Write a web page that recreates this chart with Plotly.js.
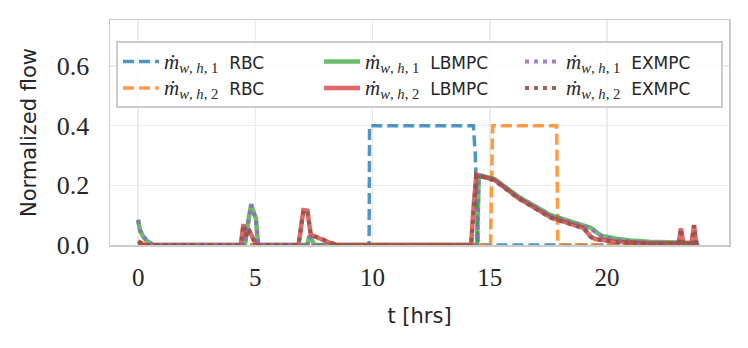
<!DOCTYPE html>
<html>
<head>
<meta charset="utf-8">
<script src="https://cdn.plot.ly/plotly-3.0.1.min.js"></script>
<style>
  html, body { margin: 0; padding: 0; background: #ffffff; }
  #chart { width: 748px; height: 348px; }
</style>
</head>
<body>
<div id="chart"></div>
<script>
// RBC schedules (hours, normalized flow)
const tRbc1 = [0, 9.85, 9.87, 14.3, 14.38, 14.43, 14.5, 24];
const mRbc1 = [0, 0, 0.4, 0.4, 0.3, 0.2, 0, 0];
const tRbc2 = [0, 15.03, 15.12, 17.85, 17.9, 24];
const mRbc2 = [0, 0, 0.4, 0.4, 0, 0];

// LBMPC
const tLb1 = [0, 0.08, 0.2, 0.4, 0.65, 4.55, 4.7, 4.82, 4.92, 5.02, 5.12, 7.22, 7.3, 7.4, 7.5,
  14.45, 14.52, 14.6, 15.2, 16.2, 17.6, 19.0, 19.3, 19.6, 19.8, 20.4, 21.0, 21.8, 22.5, 23.0, 23.9];
const mLb1 = [0.085, 0.05, 0.03, 0.012, 0, 0, 0.08, 0.137, 0.11, 0.09, 0, 0, 0.03, 0.02, 0,
  0, 0.22, 0.233, 0.221, 0.163, 0.1, 0.067, 0.058, 0.04, 0.03, 0.021, 0.015, 0.011, 0.009, 0.008, 0.007];
const tLb2 = [0, 0.3, 4.38, 4.49, 4.6, 4.7, 4.85, 5.03, 6.84, 7.05, 7.22, 7.36, 7.5, 7.8, 8.1, 8.47,
  14.2, 14.3, 14.42, 14.5, 15.2, 16.2, 17.6, 19.0, 19.15, 19.3, 19.5, 20.4, 21.8,
  23.05, 23.15, 23.25, 23.6, 23.71, 23.8, 23.9];
const mLb2 = [0.012, 0, 0, 0.07, 0.03, 0.055, 0.03, 0, 0, 0.117, 0.115, 0.035, 0.03, 0.022, 0.01, 0,
  0, 0.12, 0.235, 0.233, 0.218, 0.158, 0.092, 0.057, 0.045, 0.028, 0.02, 0.011, 0.006,
  0.006, 0.056, 0.006, 0.006, 0.067, 0.006, 0.006];

// EXMPC
const tEx1 = [0, 0.08, 0.2, 0.4, 0.65, 4.55, 4.7, 4.82, 4.92, 5.02, 5.12, 7.22, 7.3, 7.4, 7.5,
  14.46, 14.53, 14.6, 15.2, 16.2, 17.6, 19.0, 19.3, 19.6, 19.8, 20.4, 21.0, 21.8, 22.5, 23.0, 23.9];
const mEx1 = [0.083, 0.05, 0.029, 0.012, 0, 0, 0.078, 0.135, 0.11, 0.088, 0, 0, 0.028, 0.02, 0,
  0, 0.22, 0.232, 0.22, 0.162, 0.098, 0.066, 0.056, 0.038, 0.028, 0.018, 0.012, 0.008, 0.006, 0.005, 0.005];
const tEx2 = [0, 0.3, 4.38, 4.49, 4.6, 4.7, 4.85, 5.03, 6.84, 7.05, 7.22, 7.36, 7.5, 7.8, 8.1, 8.47,
  14.2, 14.3, 14.42, 14.5, 15.2, 16.2, 17.6, 19.0, 19.15, 19.3, 19.5, 20.4, 21.8,
  23.05, 23.15, 23.25, 23.6, 23.71, 23.8, 23.9];
const mEx2 = [0.012, 0, 0, 0.068, 0.03, 0.054, 0.03, 0, 0, 0.116, 0.114, 0.034, 0.03, 0.022, 0.01, 0,
  0, 0.12, 0.234, 0.232, 0.217, 0.157, 0.091, 0.056, 0.044, 0.027, 0.019, 0.01, 0.005,
  0.005, 0.055, 0.005, 0.005, 0.066, 0.005, 0.005];

const xTicks = [0, 5, 10, 15, 20];
const yTicks = [0.0, 0.2, 0.4, 0.6];

const serif = "'Liberation Serif', 'DejaVu Serif', serif";
const sans = "'DejaVu Sans', sans-serif";

// legend label: m-dot with subscript in serif, controller name in sans
function label(i, ctrl) {
  return '<span style="font-family:Liberation Serif;font-size:21px"><i>ṁ</i><sub><i>w</i>, <i>h</i>, ' + i + '</sub></span>' +
    '<span style="font-size:17px">  ' + ctrl + '</span>';
}

function line(x, y, name, color, width, dash, rank) {
  return {
    x: x, y: y, name: name, type: 'scatter', mode: 'lines',
    line: { color: color, width: width, dash: dash },
    legendrank: rank,
    hoverinfo: 'skip'
  };
}

const traces = [
  line(tRbc1, mRbc1, label(1, 'RBC'), 'rgba(31,119,180,0.78)', 3.5, '11px,5px', 1),
  line(tRbc2, mRbc2, label(2, 'RBC'), 'rgba(255,127,14,0.78)', 3.5, '11px,5px', 4),
  line(tLb1, mLb1, label(1, 'LBMPC'), 'rgba(44,160,44,0.7)', 4.5, 'solid', 2),
  line(tLb2, mLb2, label(2, 'LBMPC'), 'rgba(214,39,40,0.7)', 4.5, 'solid', 5),
  line(tEx1, mEx1, label(1, 'EXMPC'), 'rgba(148,103,189,0.85)', 4, '4px,5px', 3),
  line(tEx2, mEx2, label(2, 'EXMPC'), 'rgba(140,86,75,0.9)', 4, '4px,5px', 6)
];

const layout = {
  width: 748,
  height: 348,
  margin: { l: 110, r: 19, t: 20, b: 103 },
  paper_bgcolor: '#ffffff',
  plot_bgcolor: '#ffffff',
  showlegend: true,
  xaxis: {
    range: [-1.2, 25.2],
    tickvals: xTicks,
    ticktext: xTicks.map(String),
    tickfont: { family: serif, size: 25, color: '#262626' },
    ticklabelstandoff: 9,
    showgrid: true, gridcolor: '#ebebeb', gridwidth: 1.5,
    zeroline: false,
    showline: true, linecolor: '#cccccc', linewidth: 1.5, mirror: true,
    title: { text: 't [hrs]', font: { family: sans, size: 21, color: '#262626' }, standoff: 19 }
  },
  yaxis: {
    range: [0, 0.754],
    tickvals: yTicks,
    ticktext: yTicks.map(v => v.toFixed(1)),
    tickfont: { family: serif, size: 26, color: '#262626' },
    ticklabelstandoff: 14,
    showgrid: true, gridcolor: '#ebebeb', gridwidth: 1.5,
    zeroline: false,
    showline: true, linecolor: '#cccccc', linewidth: 1.5, mirror: true,
    title: { text: 'Normalized flow', font: { family: sans, size: 21, color: '#262626' }, standoff: 14 }
  },
  legend: {
    orientation: 'h',
    x: 0.0097, xanchor: 'left',
    y: 0.905, yanchor: 'top',
    bgcolor: 'rgba(255,255,255,0.85)',
    bordercolor: '#cccccc', borderwidth: 2,
    font: { family: sans, size: 18, color: '#262626' },
    entrywidth: 150, entrywidthmode: 'pixels',
    itemwidth: 36,
    traceorder: 'normal'
  }
};

Plotly.newPlot('chart', traces, layout, { displayModeBar: false, staticPlot: true });
</script>
</body>
</html>
